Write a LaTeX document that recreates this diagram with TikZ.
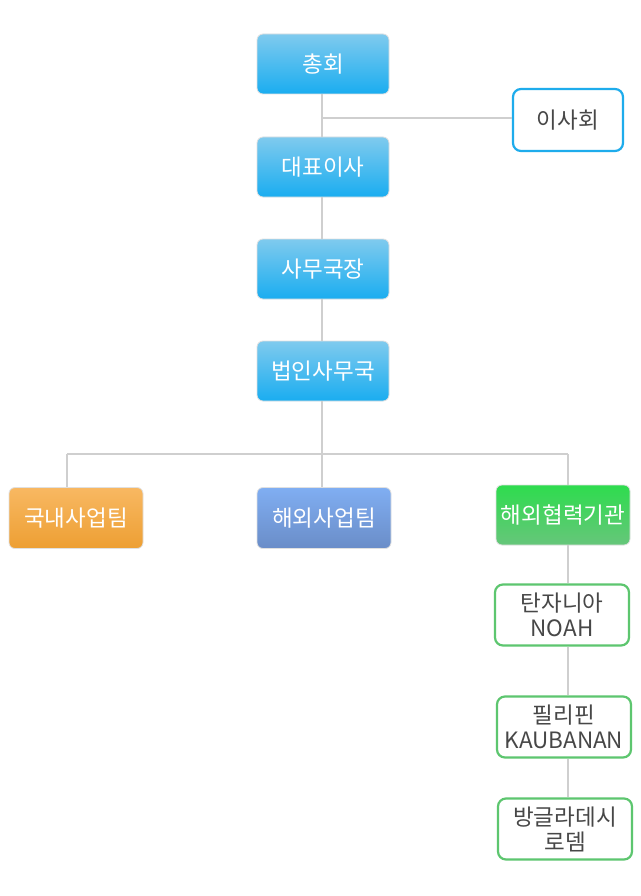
\documentclass[tikz,border=0pt]{standalone}
\usepackage{fontspec}
\setmainfont{Noto Sans CJK KR}
\begin{document}
\begin{tikzpicture}[x=1pt,y=-1pt,
  box/.style={rounded corners=6pt, minimum width=132pt, minimum height=60pt, inner sep=0pt, text=white, font=\fontsize{22.5}{26}\selectfont, draw=black!12, line width=0.8pt, align=center},
  bluebox/.style={box, shading=axis, top color=bTop, bottom color=bBot},
  orangebox/.style={box, shading=axis, top color=oTop, bottom color=oBot},
  purplebox/.style={box, shading=axis, top color=pTop, bottom color=pBot},
  greenbox/.style={box, shading=axis, top color=gTop, bottom color=gBot},
  outbox/.style={rounded corners=8pt, minimum width=134pt, minimum height=61pt, inner sep=0pt, fill=white, draw=gBorder, line width=2.2pt, text=txtGray, font=\fontsize{22.5}{25}\selectfont, align=center},
  conn/.style={draw=lineGray, line width=1.4pt}
]
\definecolor{bTop}{HTML}{7FCAEE}
\definecolor{bBot}{HTML}{1AADF0}
\definecolor{oTop}{HTML}{F8B862}
\definecolor{oBot}{HTML}{ED9F33}
\definecolor{pTop}{HTML}{80AEF2}
\definecolor{pBot}{HTML}{6A8DC8}
\definecolor{gTop}{HTML}{2EDC4E}
\definecolor{gBot}{HTML}{66C67A}
\definecolor{gBorder}{HTML}{5DC66F}
\definecolor{iBorder}{HTML}{1EACEC}
\definecolor{txtGray}{HTML}{474747}
\definecolor{lineGray}{HTML}{CFCFCF}
\useasboundingbox (0,0) rectangle (640,896);
\fill[white] (0,0) rectangle (640,896);

\coordinate (j1) at (322,118);
\coordinate (jt) at (322,454);
\coordinate (jl) at (67,454);
\coordinate (jr) at (568,454);

\node[bluebox] (a) at (323,64) {총회};
\node[outbox, draw=iBorder, minimum width=110pt, minimum height=62pt] (b) at (568,120) {이사회};
\node[bluebox] (c) at (323,167) {대표이사};
\node[bluebox] (d) at (323,269) {사무국장};
\node[bluebox] (e) at (323,371) {법인사무국};
\node[orangebox, minimum width=134pt, minimum height=61pt] (f) at (76,518) {국내사업팀};
\node[purplebox, minimum width=134pt, minimum height=61pt] (g) at (324,518) {해외사업팀};
\node[greenbox, minimum width=134pt, minimum height=60pt] (h) at (563,515) {해외협력기관};
\node[outbox] (i) at (562,615) {탄자니아\\NOAH};
\node[outbox] (k) at (564,727) {필리핀\\KAUBANAN};
\node[outbox] (l) at (565,829) {방글라데시\\로뎀};

\draw[conn] (a.south -| j1) -- (c.north -| j1);
\draw[conn] (j1) -- (j1 -| b.west);
\draw[conn] (c.south -| j1) -- (d.north -| j1);
\draw[conn] (d.south -| j1) -- (e.north -| j1);
\draw[conn] (e.south -| jt) -- (jt);
\draw[conn] (jl) -- (jr);
\draw[conn] (jl) -- (f.north -| jl);
\draw[conn] (jt) -- (g.north -| jt);
\draw[conn] (jr) -- (h.north -| jr);
\draw[conn] (h.south -| jr) -- (i.north -| jr);
\draw[conn] (i.south -| jr) -- (k.north -| jr);
\draw[conn] (k.south -| jr) -- (l.north -| jr);
\end{tikzpicture}
\end{document}
